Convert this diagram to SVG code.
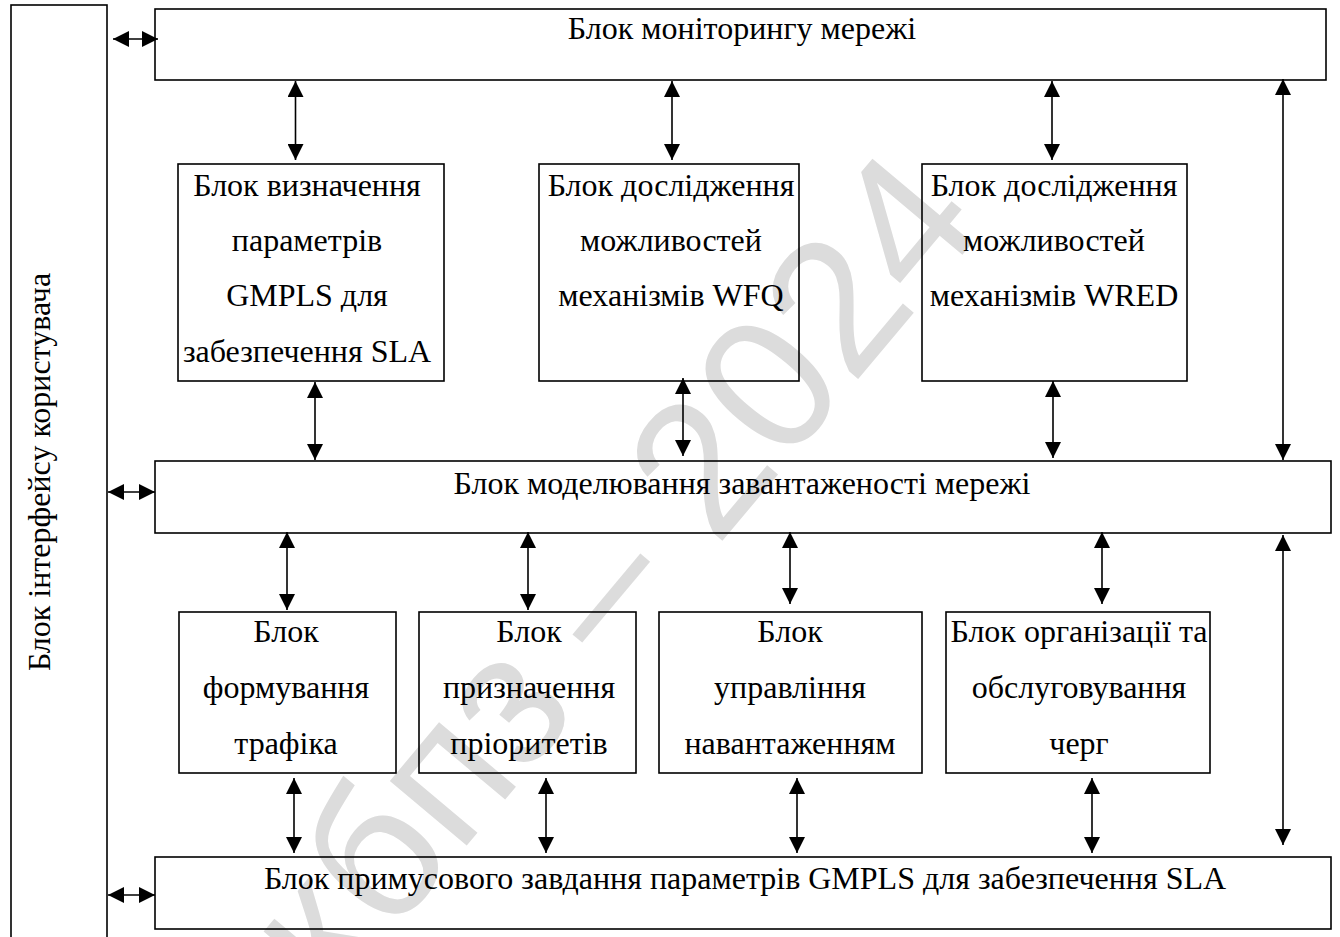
<svg xmlns="http://www.w3.org/2000/svg" width="1340" height="937" viewBox="0 0 1340 937">
<style>
.box{fill:none;stroke:#000;stroke-width:1.6}
.t{font-family:"Liberation Serif","DejaVu Serif","Noto Serif",serif;font-size:32px;fill:#000;text-anchor:middle}
.c{stroke:#000;stroke-width:1.6;fill:none;marker-start:url(#ah);marker-end:url(#ah)}
.wm{font-family:"Liberation Sans",Arial,sans-serif;font-size:190px;fill:#dcdcdc;text-anchor:middle}
</style>
<defs>
<marker id="ah" markerUnits="userSpaceOnUse" markerWidth="16" markerHeight="16" refX="15" refY="7.5" orient="auto-start-reverse" viewBox="0 0 15 15">
<path d="M0,0 L15,7.5 L0,15 z" fill="#000"/>
</marker>
</defs>
<rect width="1340" height="937" fill="#fff"/>
<g id="watermark">
<text class="wm" x="0" y="0" transform="translate(660,615) rotate(-50)">кбпз – 2024</text>
</g>
<g id="user-interface">
<rect class="box" x="11" y="5" width="96" height="940"/>
<text class="t" transform="translate(50,472) rotate(-90)">Блок інтерфейсу користувача</text>
</g>
<g id="monitoring">
<rect class="box" x="155" y="9" width="1171" height="71"/>
<text class="t" x="742" y="39">Блок моніторингу мережі</text>
</g>
<g id="gmpls-params">
<rect class="box" x="178" y="164" width="266" height="217"/>
<text class="t" x="307" y="196">Блок визначення</text>
<text class="t" x="307" y="251">параметрів</text>
<text class="t" x="307" y="306">GMPLS для</text>
<text class="t" x="307" y="362">забезпечення SLA</text>
</g>
<g id="wfq">
<rect class="box" x="539" y="164" width="260" height="217"/>
<text class="t" x="671" y="196">Блок дослідження</text>
<text class="t" x="671" y="251">можливостей</text>
<text class="t" x="671" y="306">механізмів WFQ</text>
</g>
<g id="wred">
<rect class="box" x="922" y="164" width="265" height="217"/>
<text class="t" x="1054" y="196">Блок дослідження</text>
<text class="t" x="1054" y="251">можливостей</text>
<text class="t" x="1054" y="306">механізмів WRED</text>
</g>
<g id="modeling">
<rect class="box" x="155" y="461" width="1176" height="72"/>
<text class="t" x="742" y="494">Блок моделювання завантаженості мережі</text>
</g>
<g id="traffic-shaping">
<rect class="box" x="179" y="612" width="217" height="161"/>
<text class="t" x="286" y="642">Блок</text>
<text class="t" x="286" y="698">формування</text>
<text class="t" x="286" y="754">трафіка</text>
</g>
<g id="priority">
<rect class="box" x="419" y="612" width="217" height="161"/>
<text class="t" x="529" y="642">Блок</text>
<text class="t" x="529" y="698">призначення</text>
<text class="t" x="529" y="754">пріоритетів</text>
</g>
<g id="load-control">
<rect class="box" x="659" y="612" width="263" height="161"/>
<text class="t" x="790" y="642">Блок</text>
<text class="t" x="790" y="698">управління</text>
<text class="t" x="790" y="754">навантаженням</text>
</g>
<g id="queues">
<rect class="box" x="946" y="612" width="264" height="161"/>
<text class="t" x="1079" y="642">Блок організації та</text>
<text class="t" x="1079" y="698">обслуговування</text>
<text class="t" x="1079" y="754">черг</text>
</g>
<g id="forced-params">
<rect class="box" x="155" y="857" width="1176" height="72"/>
<text class="t" x="745" y="889">Блок примусового завдання параметрів GMPLS для забезпечення SLA</text>
</g>
<g id="connectors">
<line class="c" x1="113" y1="39" x2="158" y2="39"/>
<line class="c" x1="108" y1="492" x2="155" y2="492"/>
<line class="c" x1="108" y1="895" x2="155" y2="895"/>
<line class="c" x1="295.5" y1="81" x2="295.5" y2="160"/>
<line class="c" x1="672" y1="81" x2="672" y2="160"/>
<line class="c" x1="1052" y1="81" x2="1052" y2="160"/>
<line class="c" x1="1283" y1="79" x2="1283" y2="460"/>
<line class="c" x1="315" y1="382" x2="315" y2="460"/>
<line class="c" x1="683" y1="378" x2="683" y2="456"/>
<line class="c" x1="1053" y1="381" x2="1053" y2="458"/>
<line class="c" x1="287" y1="532" x2="287" y2="610"/>
<line class="c" x1="528" y1="532" x2="528" y2="610"/>
<line class="c" x1="790" y1="532" x2="790" y2="604"/>
<line class="c" x1="1102" y1="532" x2="1102" y2="604"/>
<line class="c" x1="294" y1="778" x2="294" y2="853"/>
<line class="c" x1="546" y1="778" x2="546" y2="853"/>
<line class="c" x1="797" y1="778" x2="797" y2="853"/>
<line class="c" x1="1092" y1="778" x2="1092" y2="853"/>
<line class="c" x1="1283" y1="535" x2="1283" y2="845"/>
</g>
</svg>
